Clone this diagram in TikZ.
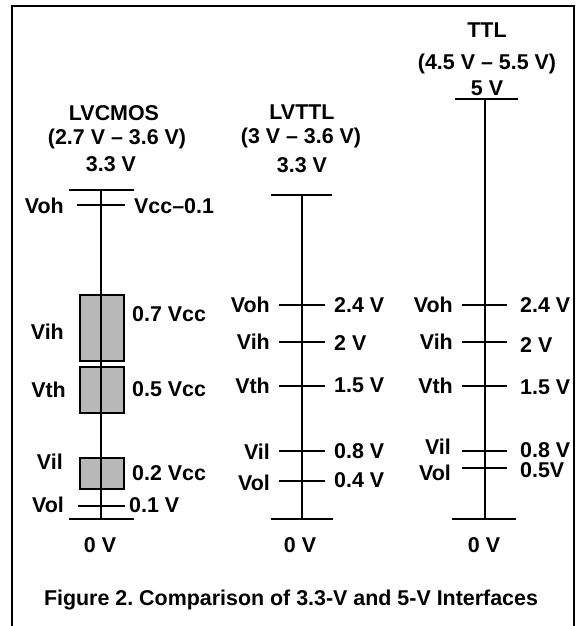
\documentclass[tikz,border=0pt]{standalone}
\usepackage{fontspec}
\setmainfont{Liberation Sans}
\frenchspacing
\begin{document}
\begin{tikzpicture}[x=1bp,y=-1bp,
  lbl/.style={font=\bfseries\fontsize{21.5}{24}\selectfont, inner sep=0pt},
  ax/.style={line width=1.9bp},
  bar/.style={line width=1.9bp},
  tk/.style={line width=1.7bp},
  band/.style={draw, line width=1.7bp, fill=black!28}]
\useasboundingbox (0,0) rectangle (579,626);
% frame
\draw[line width=2bp] (11.5,640) -- (11.5,6.5) -- (573.5,6.5) -- (573.5,640);

% ---------- LVCMOS ----------
\node[lbl] (cmT) at (114,113) {LVCMOS};
\node[lbl] (cmR) at (117,139) {(2.7 V – 3.6 V)};
\node[lbl] (cmV) at (111,164) {3.3 V};
\coordinate (cmTop) at (101,190);
\coordinate (cmBot) at (101,519);
\node[band] (cmBih) at (102,328) [minimum width=44bp, minimum height=66bp, inner sep=0pt] {};
\node[band] (cmBth) at (102,390) [minimum width=44bp, minimum height=46bp, inner sep=0pt] {};
\node[band] (cmBil) at (102,473.5) [minimum width=44bp, minimum height=31bp, inner sep=0pt] {};
\draw[ax] (cmTop) -- (cmBot);
\draw[bar] (69,190) -- (134,190);
\draw[bar] (69,519) -- (134,519);
\draw[tk] (77,205) -- (125,205);
\draw[tk] (78,506) -- (125,506);
\node[lbl, anchor=east] (cmVoh) at (64,206) {Voh};
\node[lbl, anchor=west] (cmVohR) at (134,206) {Vcc–0.1};
\node[lbl, anchor=east] (cmVih) at (64,332) {Vih};
\node[lbl, anchor=west] (cmVihR) at (132,314) {0.7 Vcc};
\node[lbl, anchor=east] (cmVth) at (66,390) {Vth};
\node[lbl, anchor=west] (cmVthR) at (132,389) {0.5 Vcc};
\node[lbl, anchor=east] (cmVil) at (63,462) {Vil};
\node[lbl, anchor=west] (cmVilR) at (132,473) {0.2 Vcc};
\node[lbl, anchor=east] (cmVol) at (64,505) {Vol};
\node[lbl, anchor=west] (cmVolR) at (129,505) {0.1 V};
\node[lbl] (cm0) at (100,545) {0 V};

% ---------- LVTTL ----------
\node[lbl] (ltT) at (302,112) {LVTTL};
\node[lbl] (ltR) at (301,138) {(3 V – 3.6 V)};
\node[lbl] (ltV) at (302,165) {3.3 V};
\coordinate (ltTop) at (302,195);
\coordinate (ltBot) at (302,519);
\draw[ax] (ltTop) -- (ltBot);
\draw[bar] (271,195) -- (332,195);
\draw[bar] (271,519) -- (333,519);
\foreach \yy in {305,342,386,451,481} \draw[tk] (279,\yy) -- (325,\yy);
\node[lbl, anchor=east] (ltVoh) at (270,305) {Voh};
\node[lbl, anchor=east] (ltVih) at (270,342) {Vih};
\node[lbl, anchor=east] (ltVth) at (270,386) {Vth};
\node[lbl, anchor=east] (ltVil) at (270,452) {Vil};
\node[lbl, anchor=east] (ltVol) at (270,483) {Vol};
\node[lbl, anchor=west] (ltVohR) at (334,305) {2.4 V};
\node[lbl, anchor=west] (ltVihR) at (334,343) {2 V};
\node[lbl, anchor=west] (ltVthR) at (334,385) {1.5 V};
\node[lbl, anchor=west] (ltVilR) at (334,451) {0.8 V};
\node[lbl, anchor=west] (ltVolR) at (334,480) {0.4 V};
\node[lbl] (lt0) at (300,545) {0 V};

% ---------- TTL ----------
\node[lbl] (tT) at (487,30) {TTL};
\node[lbl] (tR) at (487,64) {(4.5 V – 5.5 V)};
\node[lbl] (tV) at (487,88) {5 V};
\coordinate (tTop) at (485,99);
\coordinate (tBot) at (485,519);
\draw[ax] (tTop) -- (tBot);
\draw[bar] (455,99) -- (518,99);
\draw[bar] (452,519) -- (516,519);
\foreach \yy in {305,342,386,451,468} \draw[tk] (462,\yy) -- (507,\yy);
\node[lbl, anchor=east] (tVoh) at (453,305) {Voh};
\node[lbl, anchor=east] (tVih) at (453,342) {Vih};
\node[lbl, anchor=east] (tVth) at (453,386) {Vth};
\node[lbl, anchor=east] (tVil) at (451,447) {Vil};
\node[lbl, anchor=east] (tVol) at (451,473) {Vol};
\node[lbl, anchor=west] (tVohR) at (520,305) {2.4 V};
\node[lbl, anchor=west] (tVihR) at (520,345) {2 V};
\node[lbl, anchor=west] (tVthR) at (520,387) {1.5 V};
\node[lbl, anchor=west] (tVilR) at (520,450) {0.8 V};
\node[lbl, anchor=west] (tVolR) at (520,470) {0.5V};
\node[lbl] (t0) at (484,545) {0 V};

\node[lbl] (cap) at (291,600) {Figure 2. Comparison of 3.3-V and 5-V Interfaces};
\end{tikzpicture}
\end{document}
